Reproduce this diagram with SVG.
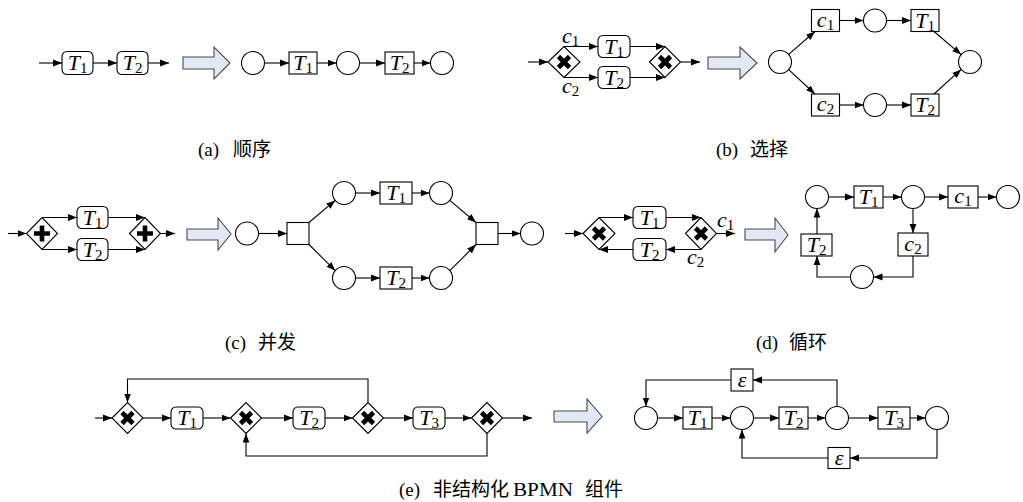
<svg xmlns="http://www.w3.org/2000/svg" width="1023" height="502" viewBox="0 0 1023 502">
<defs>
<marker id="ah" markerWidth="10" markerHeight="8" refX="9" refY="4" orient="auto" markerUnits="userSpaceOnUse"><path d="M0,0.6 L9,4 L0,7.4z" fill="#000"/></marker>
<style>
.ln{fill:none;stroke:#000;stroke-width:1.1}
.ar{marker-end:url(#ah)}
.bx{fill:#fff;stroke:#000;stroke-width:1.1}
.bp{fill:#e3e9f4;stroke:#4a4a4a;stroke-width:1.1}
.gx{fill:none;stroke:#000;stroke-width:4.6}
.m{font-family:"Liberation Serif",serif;font-size:22px;fill:#000}
.i{font-style:italic}
.s{font-size:15px}
.cap{font-family:"Liberation Serif","Noto Sans CJK SC",serif;font-size:19px;fill:#000}
</style>
</defs>
<rect width="1023" height="502" fill="#fff"/>

<!-- (a) -->
<g id="a-bpmn">
<rect class="bx" x="62" y="51.5" width="31" height="23" rx="5"/>
<text class="m" x="77.5" y="70" text-anchor="middle"><tspan class="i">T</tspan><tspan class="s" dy="3">1</tspan></text>
<rect class="bx" x="117" y="51.5" width="31" height="23" rx="5"/>
<text class="m" x="132.5" y="70" text-anchor="middle"><tspan class="i">T</tspan><tspan class="s" dy="3">2</tspan></text>
</g>
<polygon id="a-arrow" class="bp" points="183,57 214,57 214,47 230,63 214,79 214,69 183,69"/>
<g id="a-net">
<circle class="bx" cx="253" cy="63" r="11.5"/>
<rect class="bx" x="289" y="52" width="28" height="22"/>
<text class="m" x="303" y="70" text-anchor="middle"><tspan class="i">T</tspan><tspan class="s" dy="3">1</tspan></text>
<circle class="bx" cx="348" cy="63" r="11.5"/>
<rect class="bx" x="385" y="52" width="29" height="22"/>
<text class="m" x="399.5" y="70" text-anchor="middle"><tspan class="i">T</tspan><tspan class="s" dy="3">2</tspan></text>
<circle class="bx" cx="442" cy="63" r="11.5"/>
</g>
<g id="a-edges">
<path class="ln ar" d="M39,63H62"/>
<path class="ln ar" d="M93,63H117"/>
<path class="ln ar" d="M148,63H169"/>
<path class="ln ar" d="M264.5,63H289"/>
<path class="ln ar" d="M317,63H336.5"/>
<path class="ln ar" d="M359.5,63H385"/>
<path class="ln ar" d="M414,63H430.5"/>
</g>

<!-- (b) -->
<g id="b-bpmn">
<polygon class="bx" points="548,62 564,46.5 580,62 564,77.5"/>
<path class="gx" d="M558.5,56.5L569.5,67.5M569.5,56.5L558.5,67.5"/>
<rect class="bx" x="598" y="35.5" width="32" height="22" rx="5"/>
<text class="m" x="614" y="53.5" text-anchor="middle"><tspan class="i">T</tspan><tspan class="s" dy="3">1</tspan></text>
<rect class="bx" x="598" y="66.5" width="32" height="22" rx="5"/>
<text class="m" x="614" y="84.5" text-anchor="middle"><tspan class="i">T</tspan><tspan class="s" dy="3">2</tspan></text>
<polygon class="bx" points="649.5,62 665,46.5 680.5,62 665,77.5"/>
<path class="gx" d="M659.5,56.5L670.5,67.5M670.5,56.5L659.5,67.5"/>
<text class="m" x="562" y="43"><tspan class="i">c</tspan><tspan class="s" dy="3">1</tspan></text>
<text class="m" x="562" y="93"><tspan class="i">c</tspan><tspan class="s" dy="3">2</tspan></text>
</g>
<g id="b-edges-bpmn">
<path class="ln ar" d="M528,62H548"/>
<path class="ln ar" d="M564,46.5H598"/>
<path class="ln ar" d="M564,77.5H598"/>
<path class="ln ar" d="M630,46.5H665"/>
<path class="ln ar" d="M630,77.5H665"/>
<path class="ln ar" d="M680.5,62H700"/>
</g>
<polygon id="b-arrow" class="bp" points="708,57 740,57 740,47 757,63 740,79 740,69 708,69"/>
<g id="b-net">
<circle class="bx" cx="780" cy="62" r="11.5"/>
<rect class="bx" x="811.5" y="9.5" width="28" height="22"/>
<text class="m" x="825.5" y="26.5" text-anchor="middle"><tspan class="i">c</tspan><tspan class="s" dy="3">1</tspan></text>
<circle class="bx" cx="875" cy="20.5" r="11.5"/>
<rect class="bx" x="911" y="9.5" width="28" height="22"/>
<text class="m" x="925" y="27.5" text-anchor="middle"><tspan class="i">T</tspan><tspan class="s" dy="3">1</tspan></text>
<rect class="bx" x="811.5" y="94" width="28" height="22"/>
<text class="m" x="825.5" y="111" text-anchor="middle"><tspan class="i">c</tspan><tspan class="s" dy="3">2</tspan></text>
<circle class="bx" cx="875" cy="105" r="11.5"/>
<rect class="bx" x="911" y="94" width="28" height="22"/>
<text class="m" x="925" y="112" text-anchor="middle"><tspan class="i">T</tspan><tspan class="s" dy="3">2</tspan></text>
<circle class="bx" cx="970" cy="62" r="11.5"/>
</g>
<g id="b-edges-net">
<path class="ln ar" d="M788.7,54.4L815,31.5"/>
<path class="ln ar" d="M788.7,69.6L815,94"/>
<path class="ln ar" d="M839.5,20.5H863.5"/>
<path class="ln ar" d="M886.5,20.5H911"/>
<path class="ln ar" d="M934,31.5L961.2,54.6"/>
<path class="ln ar" d="M839.5,105H863.5"/>
<path class="ln ar" d="M886.5,105H911"/>
<path class="ln ar" d="M934,94L961.2,69.4"/>
</g>

<!-- (c) -->
<g id="c-bpmn">
<polygon class="bx" points="26.5,233.5 42,217.5 57.5,233.5 42,249.5"/>
<path class="gx" d="M42,225.5V241.5M34,233.5H50"/>
<rect class="bx" x="77" y="206.5" width="31" height="22" rx="5"/>
<text class="m" x="92.5" y="224.5" text-anchor="middle"><tspan class="i">T</tspan><tspan class="s" dy="3">1</tspan></text>
<rect class="bx" x="77" y="238.5" width="31" height="22" rx="5"/>
<text class="m" x="92.5" y="256.5" text-anchor="middle"><tspan class="i">T</tspan><tspan class="s" dy="3">2</tspan></text>
<polygon class="bx" points="129.5,233.5 145,217.5 160.5,233.5 145,249.5"/>
<path class="gx" d="M145,225.5V241.5M137,233.5H153"/>
</g>
<g id="c-edges-bpmn">
<path class="ln ar" d="M8,233.5H26.5"/>
<path class="ln ar" d="M42,217.5H77"/>
<path class="ln ar" d="M42,249.5H77"/>
<path class="ln ar" d="M108,217.5H145"/>
<path class="ln ar" d="M108,249.5H145"/>
<path class="ln ar" d="M160.5,233.5H175"/>
</g>
<polygon id="c-arrow" class="bp" points="187,229 218,229 218,218 231,234 218,250 218,240 187,240"/>
<g id="c-net">
<circle class="bx" cx="247" cy="233.5" r="11.5"/>
<rect class="bx" x="287" y="222.5" width="22" height="22"/>
<circle class="bx" cx="344" cy="193" r="11.5"/>
<rect class="bx" x="380" y="182" width="32" height="22"/>
<text class="m" x="396" y="200" text-anchor="middle"><tspan class="i">T</tspan><tspan class="s" dy="3">1</tspan></text>
<circle class="bx" cx="441" cy="193" r="11.5"/>
<circle class="bx" cx="344" cy="278" r="11.5"/>
<rect class="bx" x="380" y="267" width="32" height="22"/>
<text class="m" x="396" y="285" text-anchor="middle"><tspan class="i">T</tspan><tspan class="s" dy="3">2</tspan></text>
<circle class="bx" cx="441" cy="278" r="11.5"/>
<rect class="bx" x="476" y="222.5" width="22" height="22"/>
<circle class="bx" cx="532" cy="233.5" r="11.5"/>
</g>
<g id="c-edges-net">
<path class="ln ar" d="M258.5,233.5H287"/>
<path class="ln ar" d="M309,222.5L335.2,200.4"/>
<path class="ln ar" d="M309,244.5L335.2,270.6"/>
<path class="ln ar" d="M355.5,193H380"/>
<path class="ln ar" d="M412,193H429.5"/>
<path class="ln ar" d="M355.5,278H380"/>
<path class="ln ar" d="M412,278H429.5"/>
<path class="ln ar" d="M449.8,200.4L476,222.5"/>
<path class="ln ar" d="M449.8,270.6L476,244.5"/>
<path class="ln ar" d="M498,233.5H520.5"/>
</g>

<!-- (d) -->
<g id="d-bpmn">
<polygon class="bx" points="583,233.5 599,217.5 615,233.5 599,249.5"/>
<path class="gx" d="M593.5,228L604.5,239M604.5,228L593.5,239"/>
<rect class="bx" x="633" y="206.5" width="33" height="22" rx="5"/>
<text class="m" x="649.5" y="224.5" text-anchor="middle"><tspan class="i">T</tspan><tspan class="s" dy="3">1</tspan></text>
<rect class="bx" x="633" y="238.5" width="33" height="22" rx="5"/>
<text class="m" x="649.5" y="256.5" text-anchor="middle"><tspan class="i">T</tspan><tspan class="s" dy="3">2</tspan></text>
<polygon class="bx" points="685.5,233.5 701,217.5 716.5,233.5 701,249.5"/>
<path class="gx" d="M695.5,228L706.5,239M706.5,228L695.5,239"/>
<text class="m" x="717" y="227"><tspan class="i">c</tspan><tspan class="s" dy="3">1</tspan></text>
<text class="m" x="687" y="264"><tspan class="i">c</tspan><tspan class="s" dy="3">2</tspan></text>
</g>
<g id="d-edges-bpmn">
<path class="ln ar" d="M565,233.5H583"/>
<path class="ln ar" d="M599,217.5H633"/>
<path class="ln ar" d="M666,217.5H701"/>
<path class="ln ar" d="M716.5,233.5H735"/>
<path class="ln ar" d="M701,249.5H666"/>
<path class="ln ar" d="M633,249.5H599"/>
</g>
<polygon id="d-arrow" class="bp" points="745,229 775,229 775,218 788,235 775,252 775,240 745,240"/>
<g id="d-net">
<circle class="bx" cx="817" cy="197" r="11.5"/>
<rect class="bx" x="854" y="186" width="29" height="22"/>
<text class="m" x="868.5" y="204" text-anchor="middle"><tspan class="i">T</tspan><tspan class="s" dy="3">1</tspan></text>
<circle class="bx" cx="913" cy="197" r="11.5"/>
<rect class="bx" x="948" y="186" width="30" height="22"/>
<text class="m" x="963" y="203" text-anchor="middle"><tspan class="i">c</tspan><tspan class="s" dy="3">1</tspan></text>
<circle class="bx" cx="1008" cy="197" r="11.5"/>
<rect class="bx" x="898" y="233" width="30" height="23"/>
<text class="m" x="913" y="250.5" text-anchor="middle"><tspan class="i">c</tspan><tspan class="s" dy="3">2</tspan></text>
<rect class="bx" x="801" y="234" width="31" height="22"/>
<text class="m" x="816.5" y="252" text-anchor="middle"><tspan class="i">T</tspan><tspan class="s" dy="3">2</tspan></text>
<circle class="bx" cx="862" cy="277" r="11.5"/>
</g>
<g id="d-edges-net">
<path class="ln ar" d="M828.5,197H854"/>
<path class="ln ar" d="M883,197H901.5"/>
<path class="ln ar" d="M924.5,197H948"/>
<path class="ln ar" d="M978,197H996.5"/>
<path class="ln ar" d="M913,208.5V233"/>
<path class="ln ar" d="M913,256V277H873.5"/>
<path class="ln ar" d="M850.5,277H817V256"/>
<path class="ln ar" d="M817,234V208.5"/>
</g>

<!-- (e) -->
<g id="e-bpmn">
<polygon class="bx" points="112,418 127.5,402.5 143,418 127.5,433.5"/>
<path class="gx" d="M122,412.5L133,423.5M133,412.5L122,423.5"/>
<rect class="bx" x="171" y="407" width="32" height="22" rx="5"/>
<text class="m" x="187" y="425" text-anchor="middle"><tspan class="i">T</tspan><tspan class="s" dy="3">1</tspan></text>
<polygon class="bx" points="230.5,418 246,402.5 261.5,418 246,433.5"/>
<path class="gx" d="M240.5,412.5L251.5,423.5M251.5,412.5L240.5,423.5"/>
<rect class="bx" x="293" y="407" width="32" height="22" rx="5"/>
<text class="m" x="309" y="425" text-anchor="middle"><tspan class="i">T</tspan><tspan class="s" dy="3">2</tspan></text>
<polygon class="bx" points="352.5,418 368,402.5 383.5,418 368,433.5"/>
<path class="gx" d="M362.5,412.5L373.5,423.5M373.5,412.5L362.5,423.5"/>
<rect class="bx" x="413" y="407" width="32" height="22" rx="5"/>
<text class="m" x="429" y="425" text-anchor="middle"><tspan class="i">T</tspan><tspan class="s" dy="3">3</tspan></text>
<polygon class="bx" points="471.5,418 487,402.5 502.5,418 487,433.5"/>
<path class="gx" d="M481.5,412.5L492.5,423.5M492.5,412.5L481.5,423.5"/>
</g>
<g id="e-edges-bpmn">
<path class="ln ar" d="M95,418H112"/>
<path class="ln ar" d="M143,418H171"/>
<path class="ln ar" d="M203,418H230.5"/>
<path class="ln ar" d="M261.5,418H293"/>
<path class="ln ar" d="M325,418H352.5"/>
<path class="ln ar" d="M383.5,418H413"/>
<path class="ln ar" d="M445,418H471.5"/>
<path class="ln ar" d="M502.5,418H532"/>
<path class="ln ar" d="M368,402.5V379H127.5V402.5"/>
<path class="ln ar" d="M487,433.5V456H246V433.5"/>
</g>
<polygon id="e-arrow" class="bp" points="554,411 587,411 587,399 602,416.5 587,433 587,422 554,422"/>
<g id="e-net">
<circle class="bx" cx="646" cy="418" r="11.5"/>
<rect class="bx" x="683" y="407" width="29" height="22"/>
<text class="m" x="697.5" y="425" text-anchor="middle"><tspan class="i">T</tspan><tspan class="s" dy="3">1</tspan></text>
<circle class="bx" cx="742" cy="418" r="11.5"/>
<rect class="bx" x="779" y="407" width="29" height="22"/>
<text class="m" x="793.5" y="425" text-anchor="middle"><tspan class="i">T</tspan><tspan class="s" dy="3">2</tspan></text>
<circle class="bx" cx="837" cy="418" r="11.5"/>
<rect class="bx" x="878" y="407" width="32" height="22"/>
<text class="m" x="894" y="425" text-anchor="middle"><tspan class="i">T</tspan><tspan class="s" dy="3">3</tspan></text>
<circle class="bx" cx="937" cy="418" r="11.5"/>
<rect class="bx" x="731" y="369" width="22" height="22"/>
<text class="m i" x="742" y="386.5" text-anchor="middle">ε</text>
<rect class="bx" x="828" y="447.5" width="22" height="21"/>
<text class="m i" x="839" y="464.5" text-anchor="middle">ε</text>
</g>
<g id="e-edges-net">
<path class="ln ar" d="M657.5,418H683"/>
<path class="ln ar" d="M712,418H730.5"/>
<path class="ln ar" d="M753.5,418H779"/>
<path class="ln ar" d="M808,418H825.5"/>
<path class="ln ar" d="M848.5,418H878"/>
<path class="ln ar" d="M910,418H925.5"/>
<path class="ln ar" d="M837,406.5V380H753"/>
<path class="ln ar" d="M731,380H646V406.5"/>
<path class="ln ar" d="M937,429.5V458H850"/>
<path class="ln ar" d="M828,458H742V429.5"/>
</g>

<!-- captions -->
<g id="captions">
<text class="cap" y="156"><tspan x="198">(a)</tspan><tspan x="233">顺序</tspan></text>
<text class="cap" y="156"><tspan x="716">(b)</tspan><tspan x="750">选择</tspan></text>
<text class="cap" y="349"><tspan x="225">(c)</tspan><tspan x="258">并发</tspan></text>
<text class="cap" y="349"><tspan x="756">(d)</tspan><tspan x="789">循环</tspan></text>
<text class="cap" y="496"><tspan x="399">(e)</tspan><tspan x="433">非结构化</tspan><tspan x="513" textLength="60" lengthAdjust="spacingAndGlyphs">BPMN</tspan><tspan x="585">组件</tspan></text>
</g>
</svg>
